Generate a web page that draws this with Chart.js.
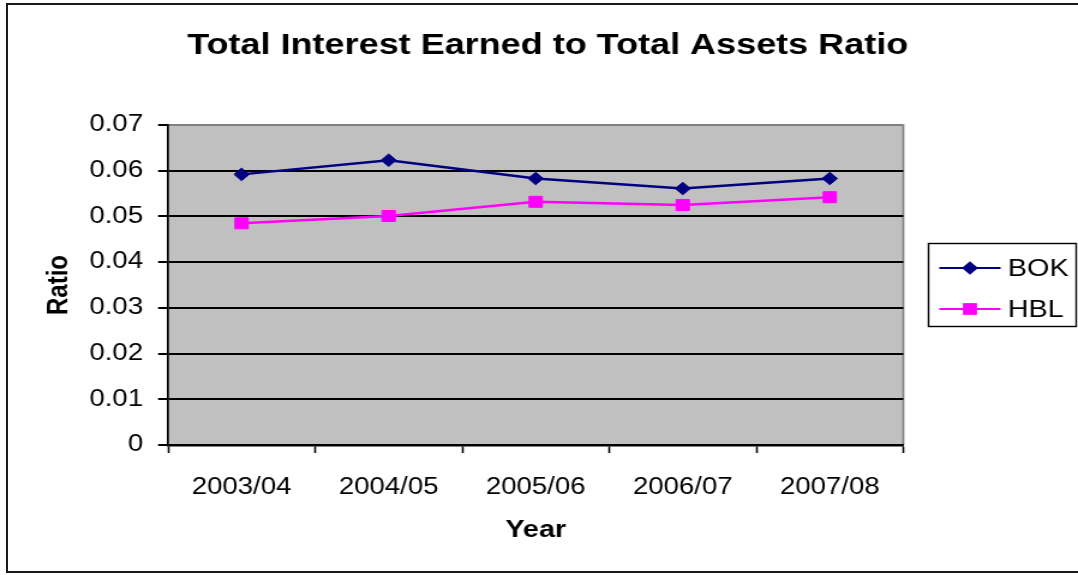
<!DOCTYPE html>
<html>
<head>
<meta charset="utf-8">
<title>Total Interest Earned to Total Assets Ratio</title>
<script src="https://cdn.jsdelivr.net/npm/chart.js@4.4.1/dist/chart.umd.min.js"></script>
<style>
    html, body { margin: 0; padding: 0; background: #fff; overflow: hidden; }
    #marco { position: absolute; left: 6px; top: 3px; width: 1090px; height: 566px; border: 2px solid #1a1a1a; }
    #grafico { position: absolute; left: 0; top: 0; }
</style>
</head>
<body>
<div id="marco"></div>
<!-- el lienzo se dibuja más estrecho y se estira en horizontal -->
<canvas id="grafico" width="898" height="575" style="width:1078px;height:575px"></canvas>
<script>
const anios = ['2003/04', '2004/05', '2005/06', '2006/07', '2007/08'];
const ratioBOK = [0.0592, 0.0623, 0.0583, 0.0561, 0.0583];
const ratioHBL = [0.0485, 0.0501, 0.0532, 0.0525, 0.0542];
const ticksY = [0, 0.01, 0.02, 0.03, 0.04, 0.05, 0.06, 0.07];

Chart.defaults.font.family = "Arial, 'Liberation Sans', sans-serif";
Chart.defaults.color = '#000';

// Fondo gris del área de trazado con borde superior y derecho
const fondoPlot = {
    id: 'fondoPlot',
    beforeDraw(chart) {
        const { ctx, chartArea: a } = chart;
        ctx.save();
        ctx.fillStyle = '#c0c0c0';
        ctx.fillRect(a.left, a.top, a.right - a.left, a.bottom - a.top);
        ctx.strokeStyle = '#808080';
        ctx.lineWidth = 1.7;
        ctx.beginPath();
        ctx.moveTo(a.left, a.top);
        ctx.lineTo(a.right, a.top);
        ctx.lineTo(a.right, a.bottom);
        ctx.stroke();
        ctx.restore();
    }
};

function dibujarMarcador(ctx, estilo, x, y, r) {
    ctx.beginPath();
    if (estilo === 'rectRot') {
        ctx.moveTo(x, y - r);
        ctx.lineTo(x + r, y);
        ctx.lineTo(x, y + r);
        ctx.lineTo(x - r, y);
        ctx.closePath();
    } else {
        const s = r * Math.SQRT1_2;
        ctx.rect(x - s, y - s, 2 * s, 2 * s);
    }
    ctx.fill();
}

// Leyenda con recuadro a la derecha
const leyenda = {
    id: 'leyenda',
    afterDraw(chart) {
        const ctx = chart.ctx;
        ctx.save();
        ctx.strokeStyle = '#000';
        ctx.lineWidth = 1.4;
        ctx.strokeRect(773.5, 243.5, 123, 83);
        chart.data.datasets.forEach((ds, i) => {
            const y = 268 + i * 41;
            ctx.strokeStyle = ds.borderColor;
            ctx.fillStyle = ds.backgroundColor;
            ctx.lineWidth = 2;
            ctx.beginPath();
            ctx.moveTo(782.5, y);
            ctx.lineTo(833.5, y);
            ctx.stroke();
            dibujarMarcador(ctx, ds.pointStyle, 808, y, ds.pointRadius + 0.5);
            ctx.fillStyle = '#000';
            ctx.font = "24px Arial, 'Liberation Sans', sans-serif";
            ctx.textBaseline = 'middle';
            ctx.textAlign = 'left';
            ctx.fillText(ds.label, 839.5, y + 1);
        });
        ctx.restore();
    }
};

const ctx = document.getElementById('grafico').getContext('2d');
new Chart(ctx, {
    type: 'line',
    data: {
        labels: anios,
        datasets: [{
            label: 'BOK',
            data: ratioBOK,
            borderColor: '#000080',
            backgroundColor: '#000080',
            borderWidth: 2.4,
            pointStyle: 'rectRot',
            pointRadius: 6.3,
            pointBorderWidth: 1,
            tension: 0
        }, {
            label: 'HBL',
            data: ratioHBL,
            borderColor: '#ff00ff',
            backgroundColor: '#ff00ff',
            borderWidth: 2.4,
            pointStyle: 'rect',
            pointRadius: 7.8,
            pointBorderWidth: 1,
            tension: 0
        }]
    },
    options: {
        responsive: false,
        animation: false,
        devicePixelRatio: 1,
        layout: { padding: { left: 14.5, right: 0, top: 0, bottom: 0 } },
        plugins: {
            legend: { display: false },
            tooltip: { enabled: false },
            title: {
                display: true,
                text: 'Total Interest Earned to Total Assets Ratio',
                color: '#000',
                font: { size: 30, weight: 'bold' },
                padding: { top: 27.5, bottom: 61.5 }
            }
        },
        scales: {
            x: {
                offset: true,
                grid: { offset: true, drawOnChartArea: false, drawTicks: true, tickLength: 8, tickColor: '#000', tickWidth: 1.6 },
                border: { color: '#000', width: 2.5 },
                ticks: { color: '#000', font: { size: 23 }, padding: 21, maxRotation: 0, autoSkip: false },
                title: {
                    display: true, text: 'Year', color: '#000',
                    font: { size: 24, weight: 'bold' },
                    padding: { top: 0, bottom: 30 }
                },
                afterFit(s) { s.height = 130; }
            },
            y: {
                min: 0,
                max: 0.07,
                afterBuildTicks(s) { s.ticks = ticksY.map(v => ({ value: v })); },
                grid: {
                    color: c => (c.tick && c.tick.value > 0.0695) ? '#808080' : '#000',
                    lineWidth: 2,
                    tickLength: 8.3,
                    tickColor: '#000',
                    tickWidth: 2
                },
                border: { color: '#000', width: 1.7 },
                ticks: {
                    color: '#000',
                    font: { size: 23 },
                    padding: 12.5,
                    callback: v => String(Number(v.toFixed(2)))
                },
                title: {
                    display: true, text: 'Ratio', color: '#000',
                    font: { size: 24, weight: 'bold' },
                    padding: { top: 20.5, bottom: 0 }
                },
                afterFit(s) { s.width = 125.5; }
            },
            derecha: {
                position: 'right',
                grid: { display: false },
                border: { display: false },
                ticks: { display: false },
                afterFit(s) { s.width = 145.5; }
            }
        }
    },
    plugins: [fondoPlot, leyenda]
});
</script>
</body>
</html>
